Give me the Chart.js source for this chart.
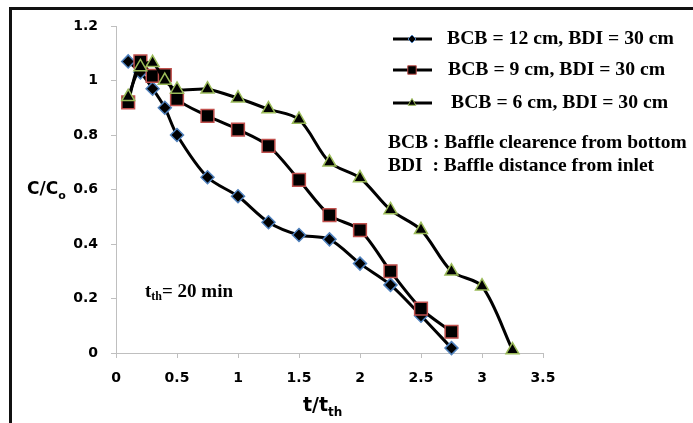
<!DOCTYPE html>
<html>
<head>
<meta charset="utf-8">
<script src="https://cdn.jsdelivr.net/npm/chart.js@4.4.1/dist/chart.umd.min.js"></script>
<style>
  body { margin: 0; background: #fff; }
  #wrap { position: relative; width: 693px; height: 423px; }
</style>
</head>
<body>
<div id="wrap"><canvas id="chart" width="693" height="423"></canvas></div>
<script>
// t/tth values
const xBase = [0.1, 0.2, 0.3, 0.4, 0.5, 0.75, 1, 1.25, 1.5, 1.75, 2, 2.25, 2.5, 2.75];
const xBcb6 = [0.1, 0.2, 0.3, 0.4, 0.5, 0.75, 1, 1.25, 1.5, 1.75, 2, 2.25, 2.5, 2.75, 3, 3.25];

// C/Co values
const yBcb12 = [1.07, 1.03, 0.97, 0.90, 0.80, 0.645, 0.575, 0.48, 0.433, 0.417, 0.328, 0.25, 0.137, 0.018];
const yBcb9 = [0.92, 1.07, 1.017, 1.02, 0.932, 0.87, 0.82, 0.76, 0.635, 0.506, 0.451, 0.30, 0.163, 0.078];
const yBcb6 = [0.94, 1.05, 1.065, 1.0, 0.967, 0.968, 0.935, 0.895, 0.857, 0.70, 0.642, 0.525, 0.452, 0.30, 0.245, 0.011];

const seriesNames = ['BCB = 12 cm, BDI = 30 cm', 'BCB = 9 cm, BDI = 30 cm', 'BCB = 6 cm, BDI = 30 cm'];
const noteLines = ['BCB : Baffle clearence from bottom', 'BDI  : Baffle distance from inlet'];

function toPoints(xs, ys) {
    return xs.map((x, i) => ({ x: x, y: ys[i] }));
}

const serif = "'Liberation Serif', 'Times New Roman', serif";

// draws frame, custom legend, notes and axis titles
const extrasPlugin = {
    id: 'extras',
    beforeDraw(chart) {
        const ctx = chart.ctx;
        ctx.save();
        ctx.fillStyle = '#fff';
        ctx.fillRect(0, 0, chart.width, chart.height);
        ctx.restore();
    },
    afterDraw(chart) {
        const ctx = chart.ctx;
        ctx.save();

        // outer frame (top and left only)
        ctx.strokeStyle = '#111';
        ctx.lineWidth = 3;
        ctx.beginPath();
        ctx.moveTo(10.5, 423);
        ctx.lineTo(10.5, 8.5);
        ctx.lineTo(693, 8.5);
        ctx.stroke();

        // legend
        const rows = [
            { y: 39, tx: 447, style: 'rectRot', r: 4, border: '#4f81bd' },
            { y: 70, tx: 448, style: 'rect', r: 6, border: '#c0504d' },
            { y: 103, tx: 451, style: 'triangle', r: 4.5, border: '#9bbb59' }
        ];
        rows.forEach((row, i) => {
            ctx.strokeStyle = '#000';
            ctx.lineWidth = 3;
            ctx.beginPath();
            ctx.moveTo(393, row.y);
            ctx.lineTo(432, row.y);
            ctx.stroke();
            ctx.fillStyle = '#000';
            ctx.strokeStyle = row.border;
            ctx.lineWidth = 1;
            Chart.helpers.drawPoint(ctx, { pointStyle: row.style, radius: row.r, borderWidth: 1 }, 412, row.y);
            ctx.fillStyle = '#000';
            ctx.font = 'bold 19.7px ' + serif;
            ctx.textAlign = 'left';
            ctx.textBaseline = 'middle';
            ctx.fillText(seriesNames[i], row.tx, row.y);
        });

        ctx.font = 'bold 19.5px ' + serif;
        ctx.fillText(noteLines[0], 388, 143);
        ctx.fillText(noteLines[1], 388, 166);

        // tth note
        ctx.font = 'bold 19px ' + serif;
        ctx.fillText('t', 145, 292);
        let w = ctx.measureText('t').width;
        ctx.font = 'bold 12px ' + serif;
        ctx.fillText('th', 145 + w, 297);
        w += ctx.measureText('th').width;
        ctx.font = 'bold 19px ' + serif;
        ctx.fillText('= 20 min', 145 + w, 292);

        // y title
        ctx.font = "bold 17px 'DejaVu Sans', sans-serif";
        ctx.fillText('C/C', 27, 190);
        w = ctx.measureText('C/C').width;
        ctx.font = "bold 11px 'DejaVu Sans', sans-serif";
        ctx.fillText('o', 27 + w, 196);

        // x title
        ctx.font = "bold 19px 'DejaVu Sans', sans-serif";
        ctx.fillText('t/t', 303, 406);
        w = ctx.measureText('t/t').width;
        ctx.font = "bold 12px 'DejaVu Sans', sans-serif";
        ctx.fillText('th', 303 + w, 413);

        ctx.restore();
    }
};

const tickFont = { family: "'DejaVu Sans', sans-serif", size: 14, weight: 'bold' };
const axisGrey = '#bfbfbf';

new Chart(document.getElementById('chart'), {
    type: 'scatter',
    data: {
        datasets: [
            {
                label: seriesNames[0],
                data: toPoints(xBase, yBcb12),
                showLine: true,
                borderColor: '#000',
                borderWidth: 3,
                tension: 0.3,
                pointStyle: 'rectRot',
                pointRadius: 6.5,
                pointBackgroundColor: '#000',
                pointBorderColor: '#4f81bd',
                pointBorderWidth: 1.5,
                order: 3,
                clip: false
            },
            {
                label: seriesNames[1],
                data: toPoints(xBase, yBcb9),
                showLine: true,
                borderColor: '#000',
                borderWidth: 3,
                tension: 0.3,
                pointStyle: 'rect',
                pointRadius: 9,
                pointBackgroundColor: '#000',
                pointBorderColor: '#c0504d',
                pointBorderWidth: 1.5,
                order: 2,
                clip: false
            },
            {
                label: seriesNames[2],
                data: toPoints(xBcb6, yBcb6),
                showLine: true,
                borderColor: '#000',
                borderWidth: 3,
                tension: 0.3,
                pointStyle: 'triangle',
                pointRadius: 7.5,
                pointBackgroundColor: '#000',
                pointBorderColor: '#9bbb59',
                pointBorderWidth: 1.5,
                order: 1,
                clip: false
            }
        ]
    },
    options: {
        responsive: false,
        animation: false,
        layout: { padding: { left: 56, right: 150, top: 26, bottom: 30 } },
        plugins: {
            legend: { display: false },
            tooltip: { enabled: false }
        },
        scales: {
            x: {
                type: 'linear',
                min: 0,
                max: 3.5,
                ticks: {
                    stepSize: 0.5,
                    font: tickFont,
                    color: '#000',
                    padding: 12,
                    maxRotation: 0,
                    callback: v => String(Math.round(v * 10) / 10)
                },
                grid: { drawOnChartArea: false, drawTicks: true, tickLength: 5, color: axisGrey },
                border: { color: axisGrey, width: 1 },
                afterFit(scale) { scale.height = 40; }
            },
            y: {
                type: 'linear',
                min: 0,
                max: 1.2,
                ticks: {
                    stepSize: 0.2,
                    font: tickFont,
                    color: '#000',
                    padding: 13,
                    callback: v => String(Math.round(v * 10) / 10)
                },
                grid: { drawOnChartArea: false, drawTicks: true, tickLength: 5, color: axisGrey },
                border: { color: axisGrey, width: 1 },
                afterFit(scale) { scale.width = 60; }
            }
        }
    },
    plugins: [extrasPlugin]
});
</script>
</body>
</html>
